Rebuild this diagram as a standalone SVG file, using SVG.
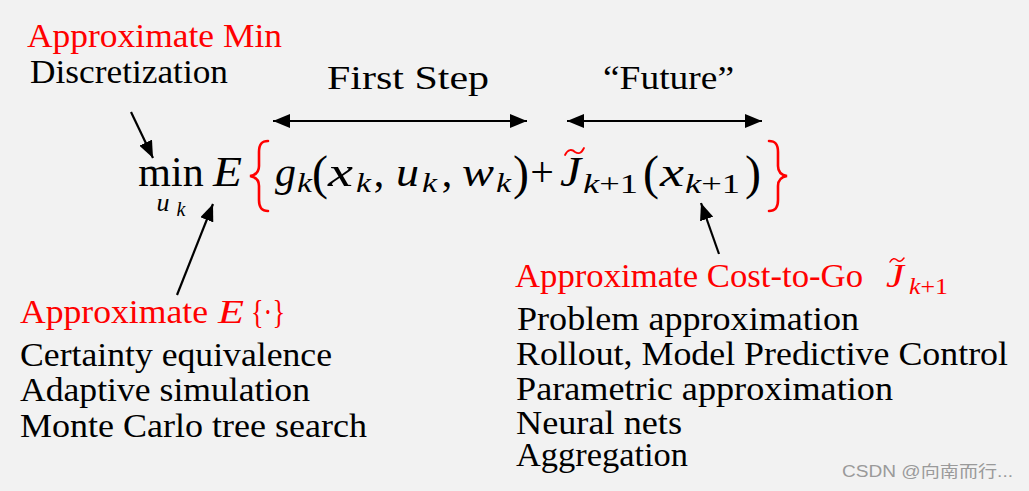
<svg xmlns="http://www.w3.org/2000/svg" width="1029" height="491" viewBox="0 0 1029 491">
  <style>
    .t { font-family: "Liberation Serif", "Times New Roman", serif; font-size: 33px; fill: #000; }
    .r { fill: #ff0000; }
    .it { font-style: italic; }
    .eq { font-family: "Liberation Serif", "Times New Roman", serif; font-size: 42px; fill: #000; }
    .c { text-anchor: middle; }
    .sub { font-size: 28px; }
    .us { font-size: 26px; }
    .ss { font-size: 20px; }
    .par { font-size: 48px; }
    .lsub { font-size: 23px; }
    .wm { font-family: "Liberation Sans", "Noto Sans CJK SC", sans-serif; font-size: 16px; fill: #9a9a9a; }
    .arr { stroke: #000; stroke-width: 2.2; fill: none; }
    .brace { stroke: #ff0000; stroke-width: 2.6; fill: none; stroke-linecap: round; }
    .tl { stroke: #ff0000; stroke-width: 1.8; fill: none; stroke-linecap: round; }
  </style>
  <defs>
    <marker id="ah" markerUnits="userSpaceOnUse" markerWidth="20" markerHeight="14" refX="17" refY="7" orient="auto-start-reverse">
      <path d="M0,0 L17,7 L0,14 Z" fill="#000"/>
    </marker>
  </defs>
  <rect x="0" y="0" width="1029" height="491" fill="#f2f2f2"/>

  <g id="label-min">
    <text class="t r" x="27" y="47" textLength="255" lengthAdjust="spacingAndGlyphs">Approximate Min</text>
    <text class="t" x="30" y="83" textLength="198" lengthAdjust="spacingAndGlyphs">Discretization</text>
  </g>

  <g id="label-first-step">
    <text class="t" x="327" y="89" textLength="162" lengthAdjust="spacingAndGlyphs">First Step</text>
  </g>
  <g id="label-future">
    <text class="t" x="603" y="89" textLength="131" lengthAdjust="spacingAndGlyphs">“Future”</text>
  </g>

  <g id="equation">
    <text class="eq r c" x="171" y="186">min</text>
    <text class="eq r it us c" x="163" y="211">u</text>
    <text class="eq r it ss c" x="181" y="216">k</text>
    <text class="eq r it" x="213" y="186" textLength="29" lengthAdjust="spacingAndGlyphs">E</text>
    <path class="brace" d="M268,141 C261,141 259,145 259,152 L259,166 C259,172 256,175 250,176 C256,177 259,180 259,186 L259,200 C259,207 261,211 268,211"/>
    <text class="eq it" x="275" y="186" textLength="21" lengthAdjust="spacingAndGlyphs">g</text>
    <text class="eq it sub" x="297" y="192" textLength="15" lengthAdjust="spacingAndGlyphs">k</text>
    <text class="eq par c" x="320" y="189">(</text>
    <text class="eq it" x="328" y="186" textLength="25" lengthAdjust="spacingAndGlyphs">x</text>
    <text class="eq it sub" x="356" y="192" textLength="15" lengthAdjust="spacingAndGlyphs">k</text>
    <text class="eq c" x="379" y="186">,</text>
    <text class="eq it" x="396" y="186" textLength="23" lengthAdjust="spacingAndGlyphs">u</text>
    <text class="eq it sub" x="422" y="192" textLength="15" lengthAdjust="spacingAndGlyphs">k</text>
    <text class="eq c" x="447" y="186">,</text>
    <text class="eq it" x="462" y="186" textLength="32" lengthAdjust="spacingAndGlyphs">w</text>
    <text class="eq it sub" x="496" y="192" textLength="15" lengthAdjust="spacingAndGlyphs">k</text>
    <text class="eq par c" x="521" y="189">)</text>
    <text class="eq c" x="542" y="186">+</text>
    <text class="eq r it" x="560" y="186" textLength="21" lengthAdjust="spacingAndGlyphs">J</text>
    <path class="tl" d="M565,155 C568,149 572,149 575,152 C578,154 581,154 584,148"/>
    <text class="eq r sub" x="583" y="193" textLength="55" lengthAdjust="spacingAndGlyphs"><tspan class="it">k</tspan>+1</text>
    <text class="eq r par c" x="651" y="189">(</text>
    <text class="eq r it" x="660" y="186" textLength="24" lengthAdjust="spacingAndGlyphs">x</text>
    <text class="eq r sub" x="685" y="193" textLength="55" lengthAdjust="spacingAndGlyphs"><tspan class="it">k</tspan>+1</text>
    <text class="eq r par c" x="753" y="189">)</text>
    <path class="brace" d="M769,141 C776,141 778,145 778,152 L778,166 C778,172 781,175 787,176 C781,177 778,180 778,186 L778,200 C778,207 776,211 769,211"/>
  </g>

  <g id="label-expectation">
    <text class="t r" x="20" y="323" textLength="188" lengthAdjust="spacingAndGlyphs">Approximate</text>
    <text class="t r it" x="218" y="323" textLength="26" lengthAdjust="spacingAndGlyphs">E</text>
    <text class="t r" x="251" y="323" textLength="34" lengthAdjust="spacingAndGlyphs">{·}</text>
    <text class="t" x="20" y="366" textLength="312" lengthAdjust="spacingAndGlyphs">Certainty equivalence</text>
    <text class="t" x="20" y="401" textLength="290" lengthAdjust="spacingAndGlyphs">Adaptive simulation</text>
    <text class="t" x="20" y="437" textLength="347" lengthAdjust="spacingAndGlyphs">Monte Carlo tree search</text>
  </g>

  <g id="label-cost-to-go">
    <text class="t r" x="515" y="287" textLength="348" lengthAdjust="spacingAndGlyphs">Approximate Cost-to-Go</text>
    <text class="t r it" x="886" y="287" textLength="18" lengthAdjust="spacingAndGlyphs">J</text>
    <path class="tl" d="M890,262 C892,258 895,258 897,260 C899,262 901,262 904,258" style="stroke-width:1.5"/>
    <text class="t r lsub" x="909" y="294" textLength="39" lengthAdjust="spacingAndGlyphs"><tspan class="it">k</tspan>+1</text>
    <text class="t" x="517" y="330" textLength="342" lengthAdjust="spacingAndGlyphs">Problem approximation</text>
    <text class="t" x="516" y="365" textLength="492" lengthAdjust="spacingAndGlyphs">Rollout, Model Predictive Control</text>
    <text class="t" x="516" y="400" textLength="377" lengthAdjust="spacingAndGlyphs">Parametric approximation</text>
    <text class="t" x="516" y="434" textLength="166" lengthAdjust="spacingAndGlyphs">Neural nets</text>
    <text class="t" x="516" y="466" textLength="172" lengthAdjust="spacingAndGlyphs">Aggregation</text>
  </g>

  <g id="connectors">
    <line class="arr" x1="273" y1="121" x2="527" y2="121" marker-start="url(#ah)" marker-end="url(#ah)"/>
    <line class="arr" x1="567" y1="121" x2="762" y2="121" marker-start="url(#ah)" marker-end="url(#ah)"/>
    <line class="arr" x1="131" y1="112" x2="153" y2="158" marker-end="url(#ah)"/>
    <line class="arr" x1="177" y1="295" x2="213" y2="204" marker-end="url(#ah)"/>
    <line class="arr" x1="719" y1="254" x2="701" y2="203" marker-end="url(#ah)"/>
  </g>

  <text class="wm" x="842" y="477" textLength="171" lengthAdjust="spacingAndGlyphs">CSDN @向南而行...</text>
</svg>
